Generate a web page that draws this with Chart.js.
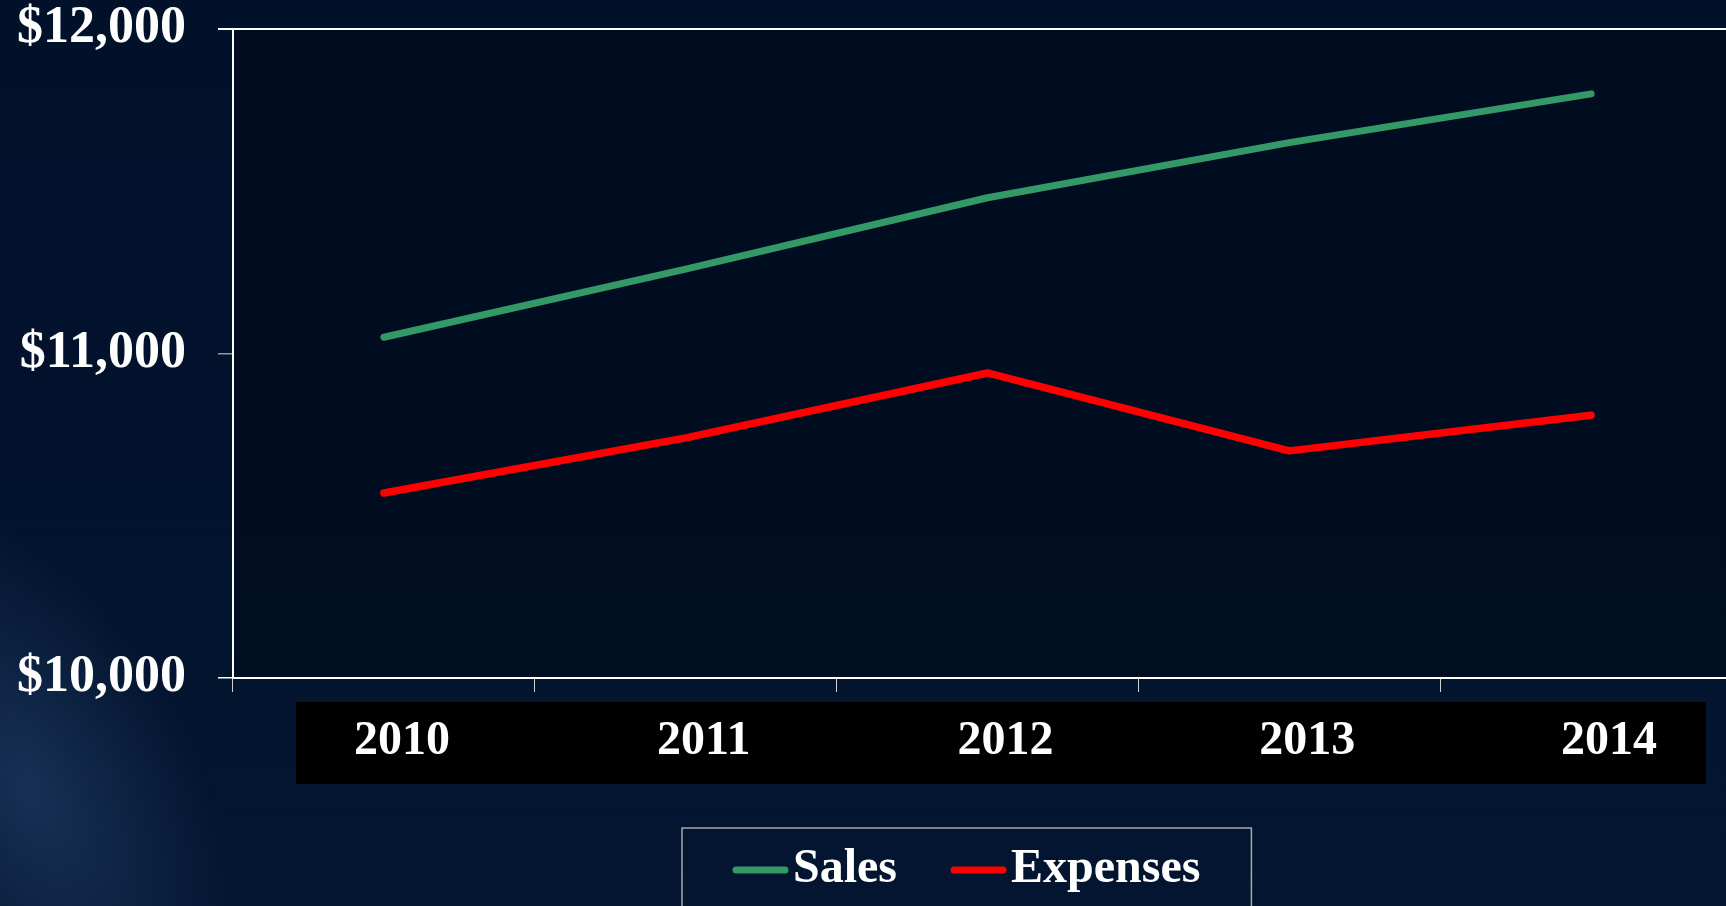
<!DOCTYPE html>
<html>
<head>
<meta charset="utf-8">
<script src="https://cdn.jsdelivr.net/npm/chart.js@4/dist/chart.umd.min.js"></script>
<style>
  html, body {
    margin: 0;
    padding: 0;
    width: 1726px;
    height: 906px;
    overflow: hidden;
  }
  body {
    background: linear-gradient(180deg, #02112a 0%, #031530 100%);
  }
  #glow {
    position: absolute;
    left: -140px;
    top: 480px;
    width: 340px;
    height: 620px;
    transform: rotate(-28deg);
    background: radial-gradient(ellipse at center, rgba(55, 95, 145, 0.38), rgba(0, 0, 0, 0) 70%);
  }
  #wrap {
    position: absolute;
    left: 0;
    top: 0;
    width: 1760px;
    height: 906px;
  }
</style>
</head>
<body>
<div id="glow"></div>
<div id="wrap"><canvas id="chart"></canvas></div>
<script>
const years = ['2010', '2011', '2012', '2013', '2014'];
const sales = [11050, 11260, 11480, 11650, 11800];
const expenses = [10570, 10740, 10940, 10700, 10810];
const seriesNames = ['Sales', 'Expenses'];
const seriesColors = ['#339966', '#ff0000'];
const yTicks = [10000, 11000, 12000];

const FONT = '"Liberation Serif", "Times New Roman", serif';

// plot fill, top border, black strip behind year labels
const frame = {
  id: 'frame',
  beforeDraw(chart) {
    const { ctx, chartArea: a } = chart;
    ctx.save();
    ctx.fillStyle = 'rgba(0, 12, 30, 0.75)';
    ctx.fillRect(a.left, a.top, a.right - a.left, a.bottom - a.top);
    ctx.fillStyle = '#000000';
    ctx.fillRect(a.left + 63, a.bottom + 24, a.right - a.left - 99, 82);
    ctx.restore();
  },
  afterDraw(chart) {
    const { ctx, chartArea: a } = chart;
    ctx.save();
    ctx.strokeStyle = '#ffffff';
    ctx.lineWidth = 2;
    ctx.beginPath();
    ctx.moveTo(a.left - 15, a.top);
    ctx.lineTo(a.right, a.top);
    ctx.lineTo(a.right, a.bottom);
    ctx.stroke();
    ctx.restore();
  }
};

// boxed legend under the axis
const boxLegend = {
  id: 'boxLegend',
  afterDraw(chart) {
    const ctx = chart.ctx;
    const sets = chart.data.datasets;
    ctx.save();
    ctx.font = 'bold 48px ' + FONT;
    ctx.textBaseline = 'middle';
    const lineLen = 55, gap = 5, itemGap = 54;
    let total = 0;
    sets.forEach((ds, i) => {
      total += lineLen + gap + ctx.measureText(ds.label).width;
      if (i < sets.length - 1) total += itemGap;
    });
    const boxLeft = 682, boxW = total + 102, boxTop = 828;
    ctx.strokeStyle = '#a8a8a8';
    ctx.lineWidth = 1.5;
    ctx.strokeRect(boxLeft, boxTop, boxW, 120);
    let x = boxLeft + 51;
    const y = 870;
    sets.forEach(ds => {
      ctx.strokeStyle = ds.borderColor;
      ctx.lineWidth = 7;
      ctx.lineCap = 'round';
      ctx.beginPath();
      ctx.moveTo(x + 3, y);
      ctx.lineTo(x + lineLen - 3, y);
      ctx.stroke();
      x += lineLen + gap;
      ctx.fillStyle = '#ffffff';
      ctx.fillText(ds.label, x, y);
      x += ctx.measureText(ds.label).width + itemGap;
    });
    ctx.restore();
  }
};

new Chart(document.getElementById('chart'), {
  type: 'line',
  data: {
    labels: years,
    datasets: [
      {
        label: seriesNames[0],
        data: sales,
        borderColor: seriesColors[0],
        backgroundColor: seriesColors[0],
        borderWidth: 7,
        borderCapStyle: 'round',
        borderJoinStyle: 'round',
        pointRadius: 0,
        tension: 0
      },
      {
        label: seriesNames[1],
        data: expenses,
        borderColor: seriesColors[1],
        backgroundColor: seriesColors[1],
        borderWidth: 7.5,
        borderCapStyle: 'round',
        borderJoinStyle: 'round',
        pointRadius: 0,
        tension: 0
      }
    ]
  },
  options: {
    responsive: true,
    maintainAspectRatio: false,
    animation: false,
    layout: { padding: { left: 0, right: 18, top: 29, bottom: 0 } },
    plugins: {
      legend: { display: false },
      tooltip: { enabled: false }
    },
    scales: {
      x: {
        offset: true,
        grid: {
          offset: true,
          drawOnChartArea: false,
          tickLength: 14,
          color: '#d0d0d0',
          lineWidth: 1
        },
        border: { color: '#ffffff', width: 2 },
        ticks: {
          color: '#ffffff',
          padding: 21,
          labelOffset: 18,
          maxRotation: 0,
          font: { family: FONT, size: 48, weight: 'bold' }
        },
        afterFit(scale) { scale.height = 228; }
      },
      y: {
        min: yTicks[0],
        max: yTicks[yTicks.length - 1],
        afterBuildTicks(scale) { scale.ticks = yTicks.map(v => ({ value: v })); },
        grid: {
          drawOnChartArea: false,
          tickLength: 15,
          color: ctx => (ctx.tick && ctx.tick.value === 11000 ? '#9a9a9a' : '#ffffff'),
          lineWidth: 1.5
        },
        border: { color: '#ffffff', width: 2 },
        ticks: {
          color: '#ffffff',
          padding: 32,
          font: { family: FONT, size: 52, weight: 'bold' },
          callback: v => '$' + Number(v).toLocaleString('en-US')
        },
        afterFit(scale) {
          scale.width = 233;
          scale.paddingTop = 0;
          scale.paddingBottom = 0;
        }
      }
    }
  },
  plugins: [frame, boxLegend]
});
</script>
</body>
</html>
